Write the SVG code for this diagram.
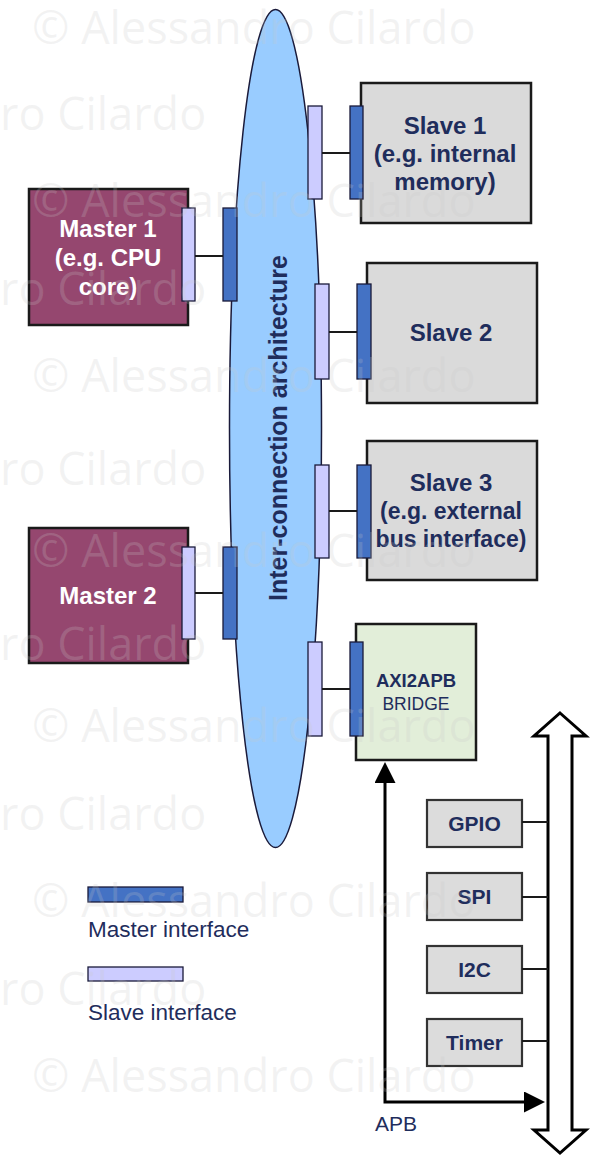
<svg xmlns="http://www.w3.org/2000/svg" width="591" height="1155" viewBox="0 0 591 1155">
<defs>
<style>
.lbl{font-family:"Liberation Sans",Arial,sans-serif;text-anchor:middle}
.b{font-weight:bold}
.w{fill:#ffffff}
.n{fill:#1f2d5c}
.master{fill:#95476f;stroke:#1a1a1a;stroke-width:2.5}
.slave{fill:#dadada;stroke:#1a1a1a;stroke-width:2.5}
.bridge{fill:#e2eed9;stroke:#1a1a1a;stroke-width:2.5}
.per{fill:#dcdcdc;stroke:#333333;stroke-width:2.2}
.mi{fill:#4472c4;stroke:#1a1a3a;stroke-width:1.3}
.si{fill:#ccccff;stroke:#1a1a3a;stroke-width:1.3}
.con{stroke:#1a1a1a;stroke-width:2;fill:none}
.apb{stroke:#000000;stroke-width:3;fill:none}
.wm{font-family:"Open Sans","Liberation Sans",sans-serif;font-size:45px;fill:#c8c8c8;fill-opacity:0.22}
</style>
<marker id="ah" viewBox="0 0 10 10" refX="0" refY="5" markerWidth="21" markerHeight="21" markerUnits="userSpaceOnUse" orient="auto-start-reverse">
<path d="M0,0 L10,5 L0,10 z" fill="#000000"/>
</marker>
</defs>
<rect x="0" y="0" width="591" height="1155" fill="#ffffff"/>

<g id="interconnect">
<ellipse cx="275.5" cy="428.5" rx="46" ry="419" fill="#99ccff" stroke="#1a1a3a" stroke-width="1.5"/>
<text class="lbl b n" font-size="25" transform="translate(287,428) rotate(-90)" x="0" y="0">Inter-connection architecture</text>
</g>

<g id="master1">
<rect class="master" x="29" y="189" width="159" height="136"/>
<text class="lbl b w" font-size="24" x="108" y="237">Master 1</text>
<text class="lbl b w" font-size="24" x="108" y="266">(e.g. CPU</text>
<text class="lbl b w" font-size="24" x="108" y="295">core)</text>
<rect class="si" x="182" y="208" width="13" height="93"/>
<rect class="mi" x="223" y="208" width="14" height="93"/>
</g>

<g id="master2">
<rect class="master" x="29" y="528" width="159" height="135"/>
<text class="lbl b w" font-size="24" x="108" y="604">Master 2</text>
<rect class="si" x="182" y="547" width="13" height="92"/>
<rect class="mi" x="223" y="547" width="14" height="92"/>
</g>

<g id="slave1">
<rect class="slave" x="361" y="83" width="170" height="140"/>
<text class="lbl b n" font-size="24" x="445" y="134">Slave 1</text>
<text class="lbl b n" font-size="24" x="445" y="162">(e.g. internal</text>
<text class="lbl b n" font-size="24" x="445" y="190">memory)</text>
<rect class="si" x="308" y="106" width="14" height="93"/>
<rect class="mi" x="350" y="106" width="13" height="93"/>
</g>

<g id="slave2">
<rect class="slave" x="367" y="263" width="170" height="140"/>
<text class="lbl b n" font-size="24" x="451" y="341">Slave 2</text>
<rect class="si" x="315" y="284" width="14" height="95"/>
<rect class="mi" x="357" y="284" width="14" height="95"/>
</g>

<g id="slave3">
<rect class="slave" x="367" y="441" width="170" height="139"/>
<text class="lbl b n" font-size="24" x="451" y="491">Slave 3</text>
<text class="lbl b n" font-size="23" x="451" y="519">(e.g. external</text>
<text class="lbl b n" font-size="23" x="451" y="547">bus interface)</text>
<rect class="si" x="315" y="465" width="14" height="93"/>
<rect class="mi" x="357" y="465" width="14" height="93"/>
</g>

<g id="bridge">
<rect class="bridge" x="356" y="624" width="120" height="136"/>
<text class="lbl b n" font-size="18.5" x="416" y="687">AXI2APB</text>
<text class="lbl n" font-size="17.5" x="416" y="710">BRIDGE</text>
<rect class="si" x="308" y="642" width="14" height="94"/>
<rect class="mi" x="350" y="642" width="13" height="94"/>
</g>

<g id="apb-bus">
<polygon points="560,713 586,736 572,736 572,1130 586,1130 560,1153 534,1130 548,1130 548,736 534,736" fill="#ffffff" stroke="#000000" stroke-width="3" stroke-linejoin="miter"/>
<text class="n" font-family="Liberation Sans, Arial, sans-serif" font-size="21" x="375" y="1131">APB</text>
</g>

<g id="gpio">
<rect class="per" x="427" y="800" width="95" height="47"/>
<text class="lbl b n" font-size="21" x="474.5" y="831">GPIO</text>
</g>
<g id="spi">
<rect class="per" x="427" y="873" width="95" height="47"/>
<text class="lbl b n" font-size="21" x="474.5" y="904">SPI</text>
</g>
<g id="i2c">
<rect class="per" x="427" y="946" width="95" height="47"/>
<text class="lbl b n" font-size="21" x="474.5" y="977">I2C</text>
</g>
<g id="timer">
<rect class="per" x="427" y="1019" width="95" height="47"/>
<text class="lbl b n" font-size="21" x="474.5" y="1050">Timer</text>
</g>

<g id="legend">
<rect class="mi" x="88" y="887" width="95" height="15"/>
<text font-family="Liberation Sans, Arial, sans-serif" font-size="22.5" class="n" x="88" y="937">Master interface</text>
<rect class="si" x="88" y="967" width="95" height="14"/>
<text font-family="Liberation Sans, Arial, sans-serif" font-size="22.5" class="n" x="88" y="1020">Slave interface</text>
</g>

<g id="connectors">
<line class="con" x1="195" y1="256" x2="223" y2="256"/>
<line class="con" x1="195" y1="593" x2="223" y2="593"/>
<line class="con" x1="322" y1="153" x2="350" y2="153"/>
<line class="con" x1="329" y1="332" x2="357" y2="332"/>
<line class="con" x1="329" y1="511" x2="357" y2="511"/>
<line class="con" x1="322" y1="689" x2="350" y2="689"/>
<line class="con" x1="522" y1="822" x2="548" y2="822"/>
<line class="con" x1="522" y1="897" x2="548" y2="897"/>
<line class="con" x1="522" y1="969" x2="548" y2="969"/>
<line class="con" x1="522" y1="1041" x2="548" y2="1041"/>
<path class="apb" d="M385,783 V1102 H524" marker-start="url(#ah)" marker-end="url(#ah)"/>
</g>

<g id="watermark">
<text class="wm" x="32" y="44">© Alessandro Cilardo</text>
<text class="wm" x="0" y="130">ro Cilardo</text>
<text class="wm" x="32" y="217">© Alessandro Cilardo</text>
<text class="wm" x="0" y="305">ro Cilardo</text>
<text class="wm" x="32" y="392">© Alessandro Cilardo</text>
<text class="wm" x="0" y="485">ro Cilardo</text>
<text class="wm" x="32" y="567">© Alessandro Cilardo</text>
<text class="wm" x="0" y="660">ro Cilardo</text>
<text class="wm" x="32" y="742">© Alessandro Cilardo</text>
<text class="wm" x="0" y="830">ro Cilardo</text>
<text class="wm" x="32" y="917">© Alessandro Cilardo</text>
<text class="wm" x="0" y="1005">ro Cilardo</text>
<text class="wm" x="32" y="1092">© Alessandro Cilardo</text>
</g>
</svg>
